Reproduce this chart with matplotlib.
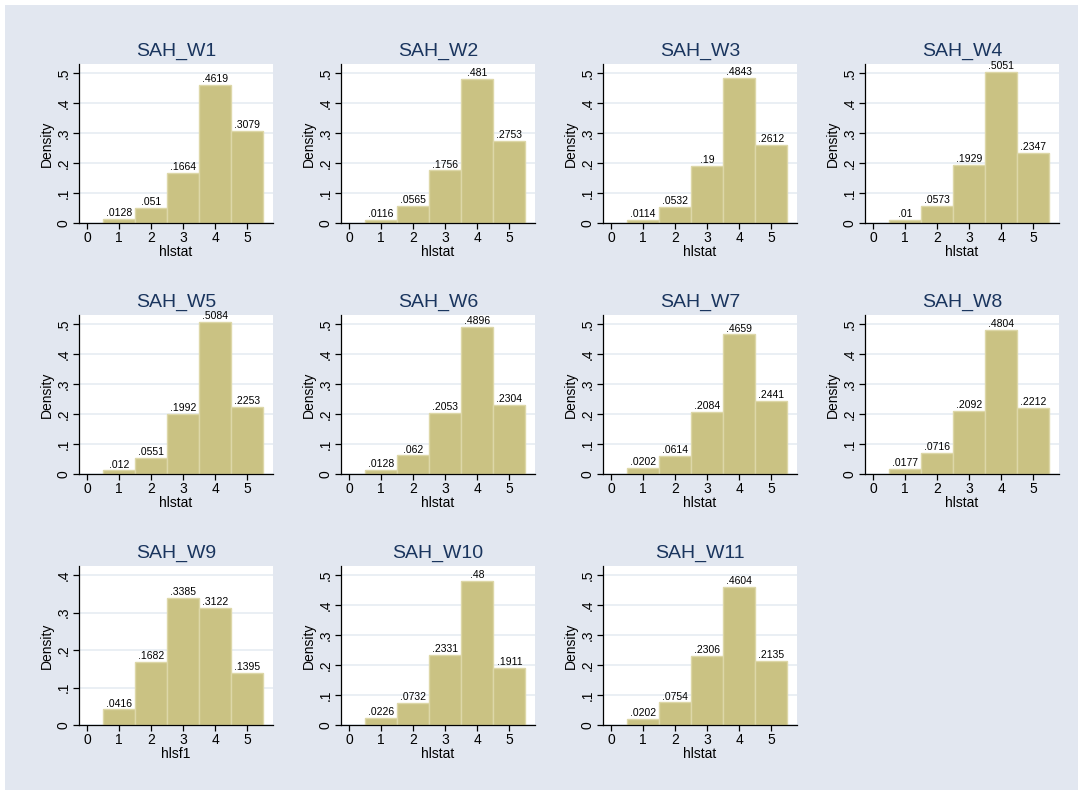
import matplotlib
matplotlib.use("Agg")
import matplotlib.pyplot as plt
from matplotlib.patches import Rectangle

plt.rcParams["font.family"] = ["Liberation Sans", "DejaVu Sans"]

titles = ["SAH_W1", "SAH_W2", "SAH_W3", "SAH_W4", "SAH_W5", "SAH_W6",
          "SAH_W7", "SAH_W8", "SAH_W9", "SAH_W10", "SAH_W11"]
xlabels = ["hlstat"] * 8 + ["hlsf1", "hlstat", "hlstat"]
categories = [1, 2, 3, 4, 5]
w1 = [.0128, .051, .1664, .4619, .3079]
w2 = [.0116, .0565, .1756, .481, .2753]
w3 = [.0114, .0532, .19, .4843, .2612]
w4 = [.01, .0573, .1929, .5051, .2347]
w5 = [.012, .0551, .1992, .5084, .2253]
w6 = [.0128, .062, .2053, .4896, .2304]
w7 = [.0202, .0614, .2084, .4659, .2441]
w8 = [.0177, .0716, .2092, .4804, .2212]
w9 = [.0416, .1682, .3385, .3122, .1395]
w10 = [.0226, .0732, .2331, .48, .1911]
w11 = [.0202, .0754, .2306, .4604, .2135]
series = [w1, w2, w3, w4, w5, w6, w7, w8, w9, w10, w11]
ytop = [.5] * 8 + [.4, .5, .5]

W, H = 1083, 795
bg = "#E2E7F0"
bar_color = "#CAC283"
title_color = "#1A355E"

fig = plt.figure(figsize=(W / 100, H / 100), dpi=100)
fig.patches.append(Rectangle((5 / W, 5 / H), 1 - 10 / W, 1 - 10 / H,
                             transform=fig.transFigure, facecolor=bg,
                             edgecolor="none", zorder=-10))


def fmt(v):
    s = f"{v:.4g}"
    return s[1:] if s.startswith("0.") else s


for i, (vals, title, xl, top) in enumerate(zip(series, titles, xlabels, ytop)):
    r, c = divmod(i, 4)
    left = 79 + 262 * c
    upper = 64 + 251 * r
    ax = fig.add_axes([left / W, 1 - (upper + 159) / H, 194 / W, 159 / H])
    ax.set_zorder(1)
    ax.set_facecolor("white")
    ax.bar(categories, vals, width=1.0, color=bar_color,
           edgecolor="#DDD7A8", linewidth=1, zorder=2)
    for x, v in zip(categories, vals):
        ax.text(x, v + top * 0.006, fmt(v), ha="center", va="bottom",
                fontsize=7.5, zorder=3)
    ax.set_xlim(-0.25, 5.8)
    ax.set_ylim(0, top * 1.062)
    ax.set_xticks([0, 1, 2, 3, 4, 5])
    yt = [k / 10 for k in range(int(round(top * 10)) + 1)]
    ax.set_yticks(yt)
    ax.set_yticklabels([fmt(t) if t > 0 else "0" for t in yt],
                       rotation=90, va="center")
    ax.grid(axis="y", color="#E6ECF2", linewidth=1.2, zorder=1)
    ax.set_axisbelow(True)
    for s in ["top", "right"]:
        ax.spines[s].set_visible(False)
    for s in ["left", "bottom"]:
        ax.spines[s].set_linewidth(0.9)
    ax.tick_params(labelsize=10, length=4, width=0.9, pad=2)
    ax.set_title(title, fontsize=14, color=title_color, pad=6)
    ax.set_xlabel(xl, fontsize=10, labelpad=0)
    ax.set_ylabel("Density", fontsize=10, labelpad=2)

fig.savefig("out.png", dpi=100, facecolor="white")
